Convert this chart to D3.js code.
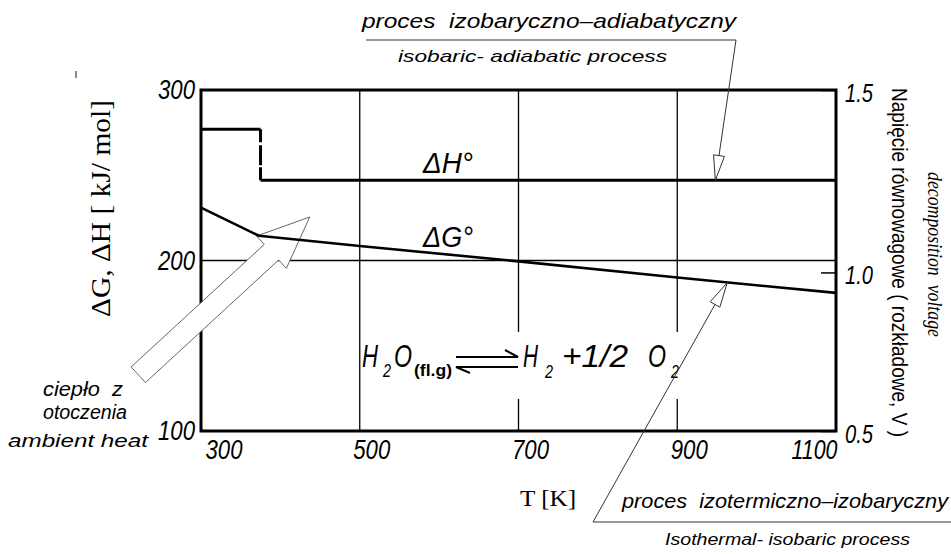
<!DOCTYPE html>
<html>
<head>
<meta charset="utf-8">
<script src="https://cdn.jsdelivr.net/npm/d3@7"></script>
<style>
  body { margin:0; background:#fff; }
  svg { display:block; }
  text { white-space: pre; }
</style>
</head>
<body>
<svg></svg>
<script>
// axis ticks
var tTicks = [300, 500, 700, 900, 1100];
var kjTicks = [100, 200, 300];
var voltTicks = [0.5, 1.0, 1.5];
var voltAtKj = [100, 193, 300];   // kJ/mol level each voltage tick sits at
var tGrid = [500, 700, 900];
var kjGrid = [200];

// enthalpy (step at boiling point)
var dhLiquidT = [300, 375];
var dhLiquid  = [277, 277];
var dhGasT    = [375, 1100];
var dhGas     = [247, 247];

// Gibbs free energy
var dgT = [300, 373, 500, 700, 900, 1100];
var dg  = [231, 214.5, 208.5, 199.5, 190, 181];

var cad = "'Liberation Sans', Arial, sans-serif";
var serif = "'Liberation Serif', 'Times New Roman', serif";

var svgwidth = 951, svgheight = 554;
var margins = {top:90, bottom:123, left:201, right:115};
var width = svgwidth - margins.left - margins.right;
var height = svgheight - margins.top - margins.bottom;

var svg = d3.select('svg').attr('width', svgwidth).attr('height', svgheight);

var xScale = d3.scaleLinear().domain([300, 1100]).range([0, width]);
var yScale = d3.scaleLinear().domain([100, 300]).range([height, 0]);
var vScale = d3.scaleLinear().domain(voltTicks).range(voltAtKj.map(yScale));

var plot = svg.append('g')
  .attr('transform', 'translate(' + margins.left + ',' + margins.top + ')');

var txt = function(g, s, x, y, o){
  var t = g.append('text').attr('x', x).attr('y', y).text(s)
    .style('font-family', o.family || cad)
    .style('font-size', o.size + 'px')
    .style('font-style', o.italic === false ? 'normal' : 'italic')
    .style('font-weight', o.bold ? 'bold' : 'normal')
    .attr('fill', '#000');
  if (o.w) t.attr('textLength', o.w).attr('lengthAdjust', 'spacingAndGlyphs');
  if (o.anchor) t.attr('text-anchor', o.anchor);
  if (o.rotate) t.attr('transform', 'rotate(' + o.rotate + ',' + x + ',' + y + ')');
  return t;
};

// grid
plot.selectAll('.vgrid').data(tGrid).enter().append('line')
  .attr('x1', xScale).attr('x2', xScale)
  .attr('y1', 0).attr('y2', height)
  .attr('stroke', '#000').attr('stroke-width', 1.3);
plot.selectAll('.hgrid').data(kjGrid).enter().append('line')
  .attr('x1', 0).attr('x2', width)
  .attr('y1', yScale).attr('y2', yScale)
  .attr('stroke', '#000').attr('stroke-width', 1.3);

// axes (labels only, frame drawn separately)
var styleTicks = function(sel){
  sel.select('.domain').remove();
  sel.selectAll('text')
    .style('font-family', cad).style('font-size', '27px').style('font-style', 'italic')
    .attr('fill', '#000')
    .attr('textLength', function(d){ return String(d).length > 3 ? 46 : 37; })
    .attr('lengthAdjust', 'spacingAndGlyphs');
};

var yAxis = d3.axisLeft(yScale).tickValues(kjTicks).tickSize(0).tickPadding(6);
plot.append('g').call(yAxis).call(styleTicks);

var xAxis = d3.axisBottom(xScale).tickValues(tTicks).tickSize(0).tickPadding(9)
  .tickFormat(d3.format('d'));
var xg = plot.append('g').attr('transform', 'translate(0,' + height + ')').call(xAxis).call(styleTicks);
xg.selectAll('text')
  .attr('text-anchor', function(d){ return d === 1100 ? 'end' : 'start'; })
  .attr('dx', function(d){ return d === 300 ? 4 : (d === 1100 ? 1 : -7); });

var vAxis = d3.axisRight(vScale).tickValues(voltTicks).tickSizeInner(-15).tickSizeOuter(0).tickPadding(9)
  .tickFormat(d3.format('.1f'));
var vg = plot.append('g').attr('transform', 'translate(' + width + ',0)').call(vAxis).call(styleTicks);
vg.selectAll('line').attr('stroke', '#000').attr('stroke-width', 1.5);
vg.selectAll('text').style('font-size', '25px').attr('textLength', 28).attr('dy', '0.45em');

// frame
plot.append('rect').attr('x', 0).attr('y', 0).attr('width', width).attr('height', height)
  .attr('fill', 'none').attr('stroke', '#000').attr('stroke-width', 3);

// white patch behind the reaction
plot.append('rect')
  .attr('x', 361 - margins.left).attr('y', 332 - margins.top)
  .attr('width', 329).attr('height', 67).attr('fill', '#fff');

// big hollow arrow: heat from surroundings
var arrowPoly = function(tail, tip, sw, hw, hl){
  var dx = tip[0] - tail[0], dy = tip[1] - tail[1];
  var L = Math.sqrt(dx*dx + dy*dy);
  var u = [dx/L, dy/L], n = [-u[1], u[0]];
  var b = [tip[0] - u[0]*hl, tip[1] - u[1]*hl];
  var p = function(o, k){ return [o[0] + n[0]*k, o[1] + n[1]*k]; };
  return [p(tail, sw), p(b, sw), p(b, hw), tip, p(b, -hw), p(b, -sw), p(tail, -sw)];
};
var heatTail = [xScale(221), yScale(133)];
var heatTip = [xScale(437), yScale(225.5)];
plot.append('polygon')
  .attr('points', arrowPoly(heatTail, heatTip, 10.6, 22, 52).map(function(p){ return p.join(','); }).join(' '))
  .attr('fill', '#fff').attr('stroke', '#555').attr('stroke-width', 0.9);

// curves
var line = d3.line().x(function(d){ return xScale(d[0]); }).y(function(d){ return yScale(d[1]); });
var zip = function(a, b){ return a.map(function(v, i){ return [v, b[i]]; }); };

plot.append('path').datum(zip(dhLiquidT, dhLiquid)).attr('d', line)
  .attr('fill', 'none').attr('stroke', '#000').attr('stroke-width', 3);
plot.append('path').datum(zip(dhGasT, dhGas)).attr('d', line)
  .attr('fill', 'none').attr('stroke', '#000').attr('stroke-width', 3);
plot.append('path').datum([[dhLiquidT[1], dhLiquid[1]], [dhGasT[0], dhGas[0]]]).attr('d', line)
  .attr('fill', 'none').attr('stroke', '#000').attr('stroke-width', 3)
  .attr('stroke-dasharray', '13 3 20 2 20');
plot.append('path').datum(zip(dgT, dg)).attr('d', line)
  .attr('fill', 'none').attr('stroke', '#000').attr('stroke-width', 2.6)
  .attr('stroke-linejoin', 'round');

// curve labels
txt(svg, 'ΔH°', 423, 173, {size:30, w:50});
txt(svg, 'ΔG°', 423, 247, {size:30, w:50});

// reaction: one text, positioned pieces
var parts = [
  {s:'H',      x:362, y:367, size:31, w:16},
  {s:'2',      x:383, y:377, size:18, w:8},
  {s:'O',      x:394, y:367, size:31, w:18},
  {s:'(fl.g)', x:414, y:376, size:16, w:38, up:true},
  {s:'H',      x:523, y:367, size:31, w:15},
  {s:'2',      x:545, y:378, size:18, w:8},
  {s:'+1/2',   x:562, y:367, size:31, w:66},
  {s:'O',      x:648, y:367, size:31, w:18},
  {s:'2',      x:671, y:378, size:18, w:8}
];
var rx = svg.append('text').style('font-family', cad).attr('fill', '#000');
rx.selectAll('tspan').data(parts).enter().append('tspan')
  .attr('x', function(d){ return d.x; }).attr('y', function(d){ return d.y; })
  .attr('textLength', function(d){ return d.w; }).attr('lengthAdjust', 'spacingAndGlyphs')
  .style('font-size', function(d){ return d.size + 'px'; })
  .style('font-style', function(d){ return d.up ? 'normal' : 'italic'; })
  .style('font-weight', function(d){ return d.up ? 'bold' : 'normal'; })
  .text(function(d){ return d.s; });
svg.append('path')
  .attr('d', 'M456,357 H518 L505,350 M518,367 H456 L470,373')
  .attr('fill', 'none').attr('stroke', '#000').attr('stroke-width', 2);

// leaders with open arrowheads
var headTri = function(from, tip, len, hw){
  var dx = tip[0] - from[0], dy = tip[1] - from[1];
  var L = Math.sqrt(dx*dx + dy*dy);
  var u = [dx/L, dy/L], n = [-u[1], u[0]];
  var b = [tip[0] - u[0]*len, tip[1] - u[1]*len];
  return [[b[0] + n[0]*hw, b[1] + n[1]*hw], tip, [b[0] - n[0]*hw, b[1] - n[1]*hw]];
};
var leader = function(pts, tip){
  var from = pts[pts.length - 1];
  var abs = [tip[0] + margins.left, tip[1] + margins.top];
  svg.append('path').attr('d', d3.line()(pts.concat([abs])))
    .attr('fill', 'none').attr('stroke', '#333').attr('stroke-width', 1);
  svg.append('polygon')
    .attr('points', headTri(from, abs, 25, 5.5).map(function(p){ return p.join(','); }).join(' '))
    .attr('fill', '#fff').attr('stroke', '#333').attr('stroke-width', 1);
};
leader([[366, 40], [736, 40]], [xScale(948), yScale(dhGas[1])]);
leader([[951, 522], [593, 522]], [xScale(963), yScale(187)]);

// annotations
txt(svg, 'proces  izobaryczno\u2013adiabatyczny', 362, 28, {size:21, w:374});
txt(svg, 'isobaric- adiabatic process', 398, 62, {size:17, w:269});
txt(svg, 'proces  izotermiczno\u2013izobaryczny', 622, 508, {size:21, w:326});
txt(svg, 'Isothermal- isobaric process', 665, 545, {size:17, w:245});
txt(svg, 'ciepło  z', 43, 396, {size:20, w:80});
txt(svg, 'otoczenia', 43, 419, {size:20, w:84});
txt(svg, 'ambient heat', 8, 447, {size:18, w:140});

// axis titles
txt(svg, 'ΔG, ΔH [ kJ/ mol]', 110, 317, {size:27, w:217, family:serif, italic:false, rotate:-90});
txt(svg, 'T [K]', 520, 506, {size:24, w:56, family:serif, italic:false});
txt(svg, 'Napięcie równowagowe ( rozkładowe, V )', 892, 88, {size:22, w:349, italic:false, rotate:90});
txt(svg, 'decomposition  voltage', 928, 172, {size:20, w:165, family:serif, rotate:90});

// stray mark top left
svg.append('line').attr('x1', 76).attr('x2', 76).attr('y1', 71).attr('y2', 78)
  .attr('stroke', '#666').attr('stroke-width', 1.5);
</script>
</body>
</html>
